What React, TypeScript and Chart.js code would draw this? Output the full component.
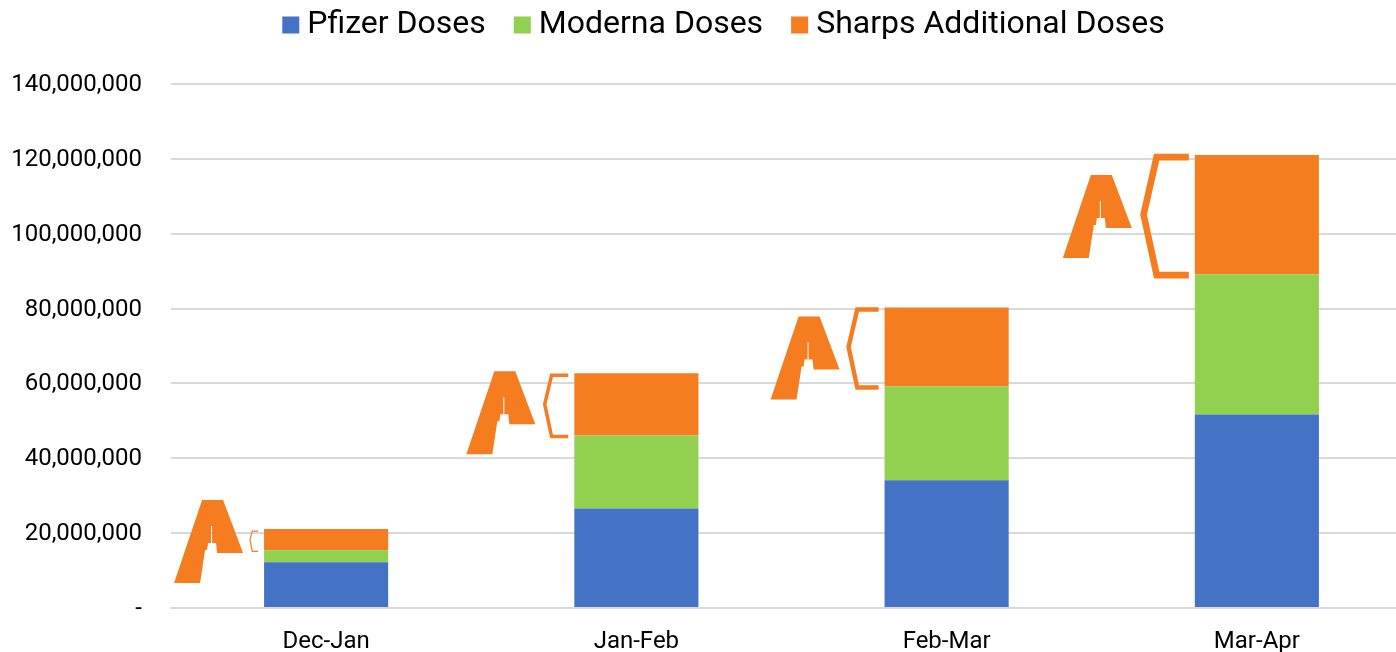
import React, { useEffect, useRef } from "react";
import { Chart, registerables } from "chart.js";

Chart.register(...registerables);

const categories = ["Dec-Jan", "Jan-Feb", "Feb-Mar", "Mar-Apr"];
const pfizerDoses = [12200000, 26600000, 34100000, 51700000];
const modernaDoses = [3200000, 19500000, 25100000, 37500000];
const sharpsDoses = [5700000, 16600000, 21100000, 31800000];

const BLUE = "#4472c4";
const GREEN = "#92d050";
const ORANGE = "#f57d20";

// Offsets of the "A" glyph from the top-left corner of each orange bar.
const glyphDx = [-90, -108, -114, -132];
const glyphDy = [-29, -2, 9, 20];
const glyphOutline = [
  [28, 0], [49, 0], [69, 53], [43, 53], [42, 43], [41, 43], [38, 43], [38, 26], [37, 26],
  [37, 43], [34, 43], [33, 50], [31, 50], [26, 83], [0, 83],
];

const annotations = {
  id: "annotations",
  afterLayout(chart: any) {
    // Legend sits higher and further right than the default placement.
    const lg = chart.legend;
    const dy = -27 - lg.top;
    lg.top += dy;
    lg.bottom += dy;
    lg.left += 21.5;
    lg.right += 21.5;
  },
  afterDatasetsDraw(chart: any) {
    const { ctx } = chart;
    const bars = chart.getDatasetMeta(2).data;
    ctx.save();
    ctx.fillStyle = ORANGE;
    ctx.strokeStyle = ORANGE;
    bars.forEach((bar: any, i: number) => {
      const left = bar.x - bar.width / 2;
      const top = bar.y;
      const bottom = bar.base;
      const h = bottom - top;
      // brace spanning the orange segment
      const right = left - 6;
      const tip = right - 0.38 * h;
      const corner = right - 0.27 * h;
      ctx.lineWidth = Math.max(1.2, 0.056 * h);
      ctx.lineJoin = "miter";
      ctx.beginPath();
      ctx.moveTo(right, top + 2);
      ctx.lineTo(corner, top + 2);
      ctx.lineTo(tip, (top + bottom) / 2);
      ctx.lineTo(corner, bottom + 1);
      ctx.lineTo(right, bottom + 1);
      ctx.stroke();
      // the "A" glyph
      const gx = left + glyphDx[i];
      const gy = top + glyphDy[i];
      ctx.beginPath();
      glyphOutline.forEach(([x, y], k) => {
        if (k === 0) ctx.moveTo(gx + x, gy + y);
        else ctx.lineTo(gx + x, gy + y);
      });
      ctx.closePath();
      ctx.fill();
    });
    ctx.restore();
  },
};

export default function App() {
  const ref = useRef<HTMLCanvasElement>(null);
  useEffect(() => {
    document.body.style.margin = "0";
    const chart = new Chart(ref.current!, {
      type: "bar",
      data: {
        labels: categories,
        datasets: [
          { label: "Pfizer Doses", data: pfizerDoses, backgroundColor: BLUE, borderWidth: 0 },
          { label: "Moderna Doses", data: modernaDoses, backgroundColor: GREEN, borderWidth: 0 },
          { label: "Sharps Additional Doses", data: sharpsDoses, backgroundColor: ORANGE, borderWidth: 0 },
        ],
      },
      options: {
        animation: false,
        responsive: false,
        layout: { padding: { top: 6, left: 0, right: 0, bottom: 0 } },
        datasets: { bar: { barPercentage: 0.4, categoryPercentage: 1 } },
        plugins: {
          tooltip: { enabled: false },
          legend: {
            position: "top",
            labels: {
              usePointStyle: true,
              pointStyle: "rect",
              boxWidth: 1,
              boxHeight: 17,
              padding: 36,
              color: "#000000",
              font: { family: "Roboto", size: 32 },
            },
          },
        },
        scales: {
          x: {
            stacked: true,
            afterFit: (s: any) => { s.height = 44; },
            grid: { display: false },
            border: { color: "#d9d9d9", width: 2 },
            ticks: { color: "#000000", padding: 12, font: { family: "Roboto", size: 24 }, maxRotation: 0 },
          },
          y: {
            stacked: true,
            min: 0,
            max: 140000000,
            afterFit: (s: any) => { s.width = 171; },
            grid: { color: "#d9d9d9", lineWidth: 2, drawTicks: false },
            border: { display: false },
            ticks: {
              stepSize: 20000000,
              color: "#000000",
              padding: 29,
              labelOffset: 1,
              font: { family: "Roboto", size: 24 },
              callback: (v: any) => (v === 0 ? "-" : Number(v).toLocaleString("en-US")),
            },
          },
        },
      },
      plugins: [annotations],
    } as any);
    return () => chart.destroy();
  }, []);
  return (
    <div style={{ width: 1396, height: 652, overflow: "hidden" }}>
      <canvas ref={ref} width={1412} height={652} style={{ display: "block" }} />
    </div>
  );
}
